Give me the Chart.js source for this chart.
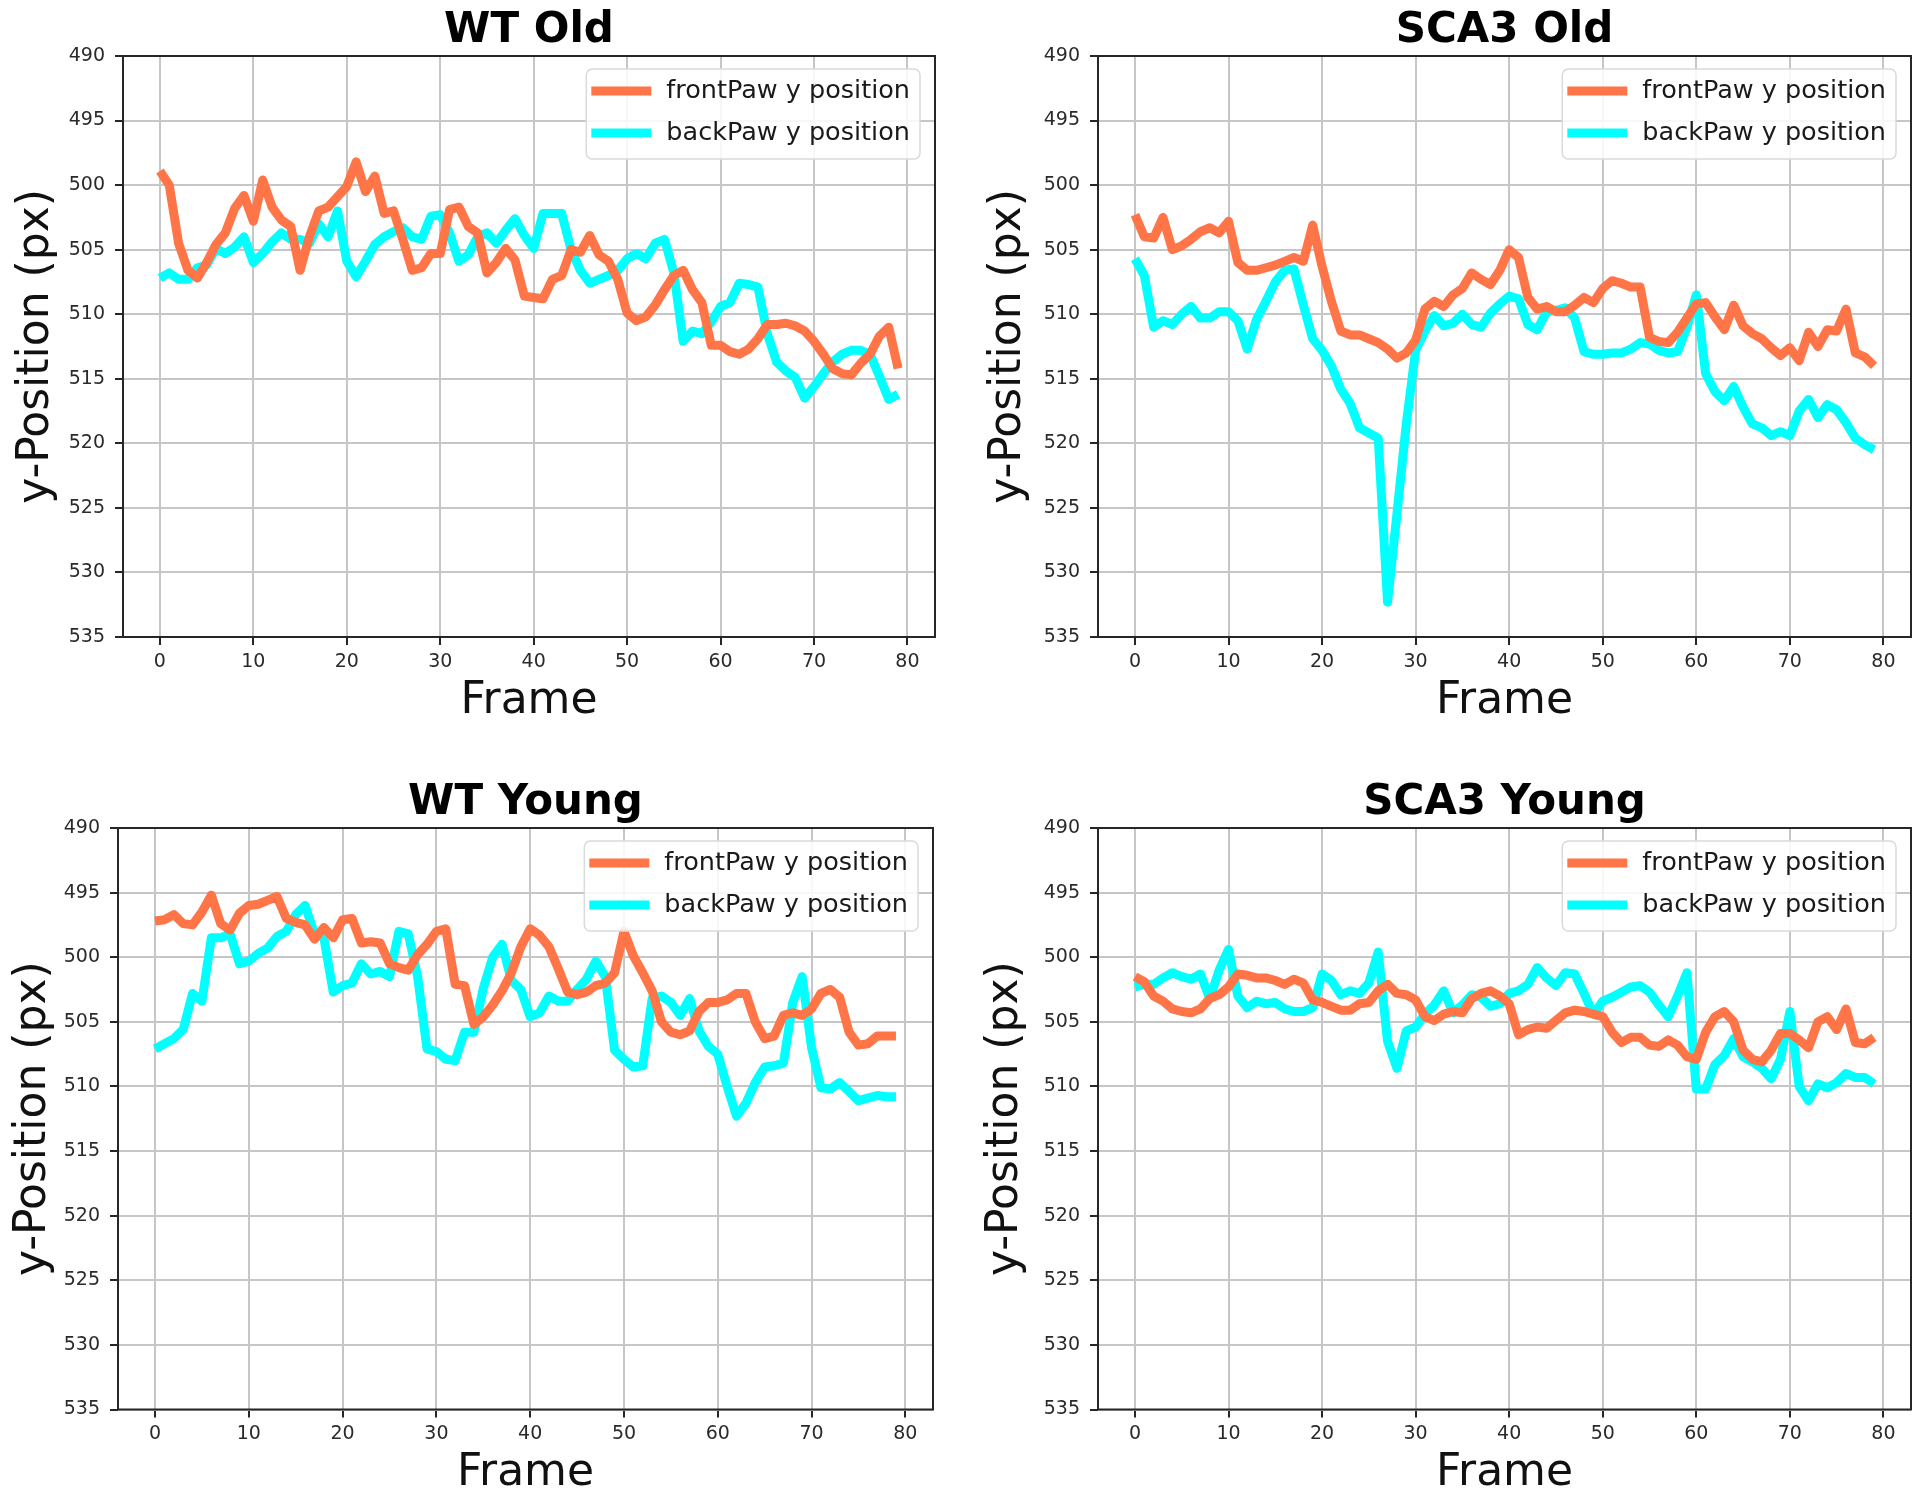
<!DOCTYPE html>
<html>
<head>
<meta charset="utf-8">
<title>Paw y-position per frame</title>
<script src="https://cdn.jsdelivr.net/npm/chart.js@4.4.1/dist/chart.umd.min.js"></script>
<style>
  html, body { margin: 0; padding: 0; background: #fff; }
  body { width: 1920px; height: 1497px; position: relative; overflow: hidden; }
  canvas { position: absolute; }
</style>
</head>
<body>
<canvas id="wt-old" width="975" height="740" style="left:0px;top:0px"></canvas>
<canvas id="sca3-old" width="945" height="740" style="left:975px;top:0px"></canvas>
<canvas id="wt-young" width="975" height="757" style="left:0px;top:740px"></canvas>
<canvas id="sca3-young" width="945" height="757" style="left:975px;top:740px"></canvas>
<script>
// Assi e etichette
const frames = Array.from({ length: 80 }, (_, i) => i);
const xTicks = [0, 10, 20, 30, 40, 50, 60, 70, 80];
const yTicks = [490, 495, 500, 505, 510, 515, 520, 525, 530, 535];
const seriesLabels = ['frontPaw y position', 'backPaw y position'];
const panelTitles = ['WT Old', 'SCA3 Old', 'WT Young', 'SCA3 Young'];

// Valori (y in px, frame 0..79)
const wtOldFront = [
    498.9, 500.0, 504.5, 506.6, 507.2, 506.0, 504.6, 503.7, 501.8, 500.8,
    502.8, 499.6, 501.7, 502.7, 503.2, 506.6, 504.0, 502.0, 501.7, 500.9,
    500.1, 498.2, 500.5, 499.3, 502.2, 502.0, 504.2, 506.6, 506.4, 505.3,
    505.3, 501.9, 501.7, 503.2, 503.7, 506.8, 506.0, 504.9, 505.8, 508.6,
    508.7, 508.8, 507.3, 507.0, 505.0, 505.2, 503.9, 505.4, 505.9, 507.3,
    509.9, 510.5, 510.2, 509.3, 508.1, 507.0, 506.6, 508.1, 509.1, 512.4,
    512.4, 512.9, 513.1, 512.7, 511.9, 510.8, 510.8, 510.7, 510.9, 511.3,
    512.1, 513.1, 514.2, 514.6, 514.7, 513.8, 513.1, 511.7, 511.0, 514.2
];
const wtOldBack = [
    507.2, 506.8, 507.3, 507.3, 506.4, 506.2, 504.9, 505.3, 504.8, 504.0,
    506.0, 505.3, 504.4, 503.7, 504.2, 504.2, 504.5, 503.0, 504.0, 502.0,
    505.9, 507.1, 505.9, 504.6, 504.0, 503.6, 503.3, 504.0, 504.2, 502.4,
    502.3, 503.7, 505.9, 505.4, 504.0, 503.7, 504.5, 503.5, 502.6, 503.9,
    504.9, 502.2, 502.2, 502.2, 505.0, 506.6, 507.6, 507.3, 507.0, 506.6,
    505.7, 505.3, 505.7, 504.5, 504.2, 506.8, 512.1, 511.3, 511.5, 510.6,
    509.4, 509.1, 507.6, 507.7, 507.9, 511.5, 513.7, 514.4, 514.9, 516.5,
    515.6, 514.6, 513.7, 513.1, 512.8, 512.8, 513.1, 514.8, 516.6, 516.2
];
const sca3OldFront = [
    502.3, 504.0, 504.1, 502.5, 505.0, 504.7, 504.2, 503.6, 503.3, 503.7,
    502.8, 506.0, 506.6, 506.6, 506.4, 506.2, 505.9, 505.6, 505.9, 503.1,
    506.3, 509.0, 511.3, 511.6, 511.6, 511.9, 512.2, 512.7, 513.4, 513.0,
    512.0, 509.6, 509.0, 509.4, 508.5, 508.0, 506.8, 507.3, 507.7, 506.6,
    505.0, 505.6, 508.7, 509.6, 509.4, 509.8, 509.8, 509.3, 508.7, 509.1,
    508.0, 507.4, 507.6, 507.9, 507.9, 511.8, 512.1, 512.2, 511.4, 510.3,
    509.2, 509.1, 510.2, 511.2, 509.3, 510.9, 511.5, 511.9, 512.6, 513.2,
    512.6, 513.6, 511.4, 512.5, 511.2, 511.3, 509.6, 513.0, 513.3, 514.0
];
const sca3OldBack = [
    505.7, 507.0, 511.0, 510.5, 510.8, 510.0, 509.4, 510.3, 510.3, 509.8,
    509.8, 510.5, 512.7, 510.4, 509.0, 507.5, 506.6, 506.5, 509.3, 511.9,
    512.8, 514.0, 515.8, 516.9, 518.8, 519.2, 519.6, 532.3, 525.5, 518.5,
    512.8, 511.3, 510.1, 510.9, 510.7, 510.0, 510.8, 511.0, 509.9, 509.2,
    508.6, 508.8, 510.8, 511.2, 509.8, 509.7, 509.5, 510.3, 512.9, 513.1,
    513.1, 513.0, 513.0, 512.7, 512.2, 512.3, 512.8, 513.0, 512.9, 511.0,
    508.5, 514.6, 516.0, 516.7, 515.6, 517.2, 518.5, 518.8, 519.4, 519.1,
    519.4, 517.5, 516.6, 518.0, 517.0, 517.4, 518.4, 519.6, 520.1, 520.5
];
const wtYoungFront = [
    497.2, 497.1, 496.7, 497.4, 497.5, 496.5, 495.2, 497.4, 497.9, 496.6,
    496.0, 495.9, 495.6, 495.3, 497.0, 497.3, 497.5, 498.6, 497.7, 498.5,
    497.1, 497.0, 498.9, 498.8, 498.9, 500.5, 500.8, 501.0, 499.8, 499.0,
    498.0, 497.8, 502.1, 502.2, 505.2, 504.6, 503.7, 502.6, 501.2, 499.2,
    497.8, 498.3, 499.2, 500.9, 502.7, 502.9, 502.7, 502.2, 502.0, 501.2,
    498.0, 499.9, 501.2, 502.6, 505.0, 505.8, 506.0, 505.7, 504.2, 503.5,
    503.5, 503.3, 502.8, 502.8, 505.0, 506.3, 506.1, 504.5, 504.3, 504.5,
    504.0, 502.8, 502.5, 503.1, 505.8, 506.8, 506.7, 506.1, 506.1, 506.1
];
const wtYoungBack = [
    507.1, 506.7, 506.3, 505.6, 502.8, 503.4, 498.5, 498.5, 498.2, 500.5,
    500.3, 499.7, 499.3, 498.4, 498.0, 496.7, 496.0, 498.2, 498.5, 502.7,
    502.2, 502.0, 500.5, 501.3, 501.1, 501.5, 498.0, 498.2, 501.5, 507.1,
    507.3, 507.9, 508.0, 505.8, 505.8, 502.4, 500.0, 499.0, 501.8, 502.5,
    504.6, 504.3, 503.0, 503.4, 503.4, 502.5, 501.7, 500.3, 501.5, 507.2,
    507.9, 508.5, 508.4, 503.2, 503.0, 503.5, 504.5, 503.2, 505.7, 506.9,
    507.5, 510.0, 512.3, 511.3, 509.7, 508.5, 508.4, 508.2, 503.5, 501.5,
    507.0, 510.1, 510.2, 509.7, 510.4, 511.1, 510.9, 510.7, 510.8, 510.8
];
const sca3YoungFront = [
    501.5, 501.9, 503.0, 503.4, 504.0, 504.2, 504.3, 504.0, 503.2, 502.9,
    502.3, 501.3, 501.4, 501.6, 501.6, 501.8, 502.1, 501.7, 502.0, 503.3,
    503.5, 503.8, 504.1, 504.1, 503.6, 503.5, 502.6, 502.1, 502.8, 502.9,
    503.3, 504.6, 504.9, 504.4, 504.2, 504.3, 503.2, 502.8, 502.6, 503.0,
    503.6, 506.0, 505.6, 505.4, 505.5, 504.9, 504.3, 504.1, 504.2, 504.4,
    504.6, 505.8, 506.6, 506.2, 506.2, 506.8, 506.9, 506.4, 506.8, 507.7,
    507.9, 505.8, 504.6, 504.2, 505.0, 507.2, 507.9, 508.1, 507.2, 505.9,
    505.9, 506.4, 507.0, 505.0, 504.6, 505.6, 504.0, 506.6, 506.7, 506.2
];
const sca3YoungBack = [
    502.3, 502.1, 502.1, 501.6, 501.2, 501.5, 501.7, 501.3, 503.2, 501.0,
    499.4, 503.0, 503.9, 503.4, 503.6, 503.5, 504.0, 504.2, 504.2, 503.9,
    501.3, 501.8, 502.9, 502.6, 502.8, 502.0, 499.6, 506.5, 508.6, 505.7,
    505.4, 504.4, 503.7, 502.6, 504.3, 503.7, 502.9, 503.1, 503.8, 503.6,
    502.8, 502.6, 502.1, 500.8, 501.6, 502.2, 501.2, 501.3, 502.8, 504.4,
    503.4, 503.1, 502.7, 502.3, 502.2, 502.7, 503.7, 504.6, 503.0, 501.2,
    510.2, 510.2, 508.3, 507.6, 506.3, 507.7, 508.1, 508.6, 509.4, 507.9,
    504.2, 510.0, 511.1, 509.8, 510.1, 509.7, 509.0, 509.3, 509.3, 509.8
];

// Stile
const FRONT_COLOR = '#ff7548';
const BACK_COLOR = '#00ffff';
const GRID_COLOR = '#c6c6c6';
const AXIS_COLOR = '#262626';
const FONT_FAMILY = '"DejaVu Sans", "Liberation Sans", sans-serif';
const TITLE_SIZE = 42;
const LABEL_SIZE = 44;

Chart.defaults.font.family = FONT_FAMILY;
Chart.defaults.color = '#222';

// Posizione di ogni pannello dentro il suo canvas
const panels = [
    { id: 'wt-old', title: panelTitles[0], front: wtOldFront, back: wtOldBack,
      plot: { left: 123, right: 935, top: 56, bottom: 637 }, titleMid: 31, frameMid: 701.5, yLabelMid: 36.5 },
    { id: 'sca3-old', title: panelTitles[1], front: sca3OldFront, back: sca3OldBack,
      plot: { left: 123, right: 936, top: 56, bottom: 637 }, titleMid: 31, frameMid: 701.5, yLabelMid: 34 },
    { id: 'wt-young', title: panelTitles[2], front: wtYoungFront, back: wtYoungBack,
      plot: { left: 118, right: 933, top: 88, bottom: 669.5 }, titleMid: 63.5, frameMid: 733.5, yLabelMid: 33.5 },
    { id: 'sca3-young', title: panelTitles[3], front: sca3YoungFront, back: sca3YoungBack,
      plot: { left: 123, right: 936, top: 88, bottom: 669.5 }, titleMid: 63.5, frameMid: 733.5, yLabelMid: 31 }
];

// Cornice attorno all'area del grafico (come gli spine di matplotlib)
const framePlugin = {
    id: 'frame',
    afterDatasetsDraw(chart) {
        const { ctx, chartArea: a } = chart;
        ctx.save();
        ctx.strokeStyle = AXIS_COLOR;
        ctx.lineWidth = 2;
        ctx.strokeRect(a.left, a.top, a.right - a.left, a.bottom - a.top);
        ctx.restore();
    }
};

// Legenda dentro l'area del grafico, in alto a destra
const insideLegendPlugin = {
    id: 'insideLegend',
    afterDraw(chart) {
        const { ctx, chartArea: a } = chart;
        const items = chart.data.datasets;
        ctx.save();
        ctx.font = '25.5px ' + FONT_FAMILY;
        const textW = Math.max(...items.map(d => ctx.measureText(d.label).width));
        const w = 80 + textW + 10;
        const h = 90;
        const x = a.right - 15 - w;
        const y = a.top + 13;

        ctx.beginPath();
        ctx.roundRect(x, y, w, h, 6);
        ctx.fillStyle = 'rgba(255,255,255,0.85)';
        ctx.fill();
        ctx.strokeStyle = '#dadada';
        ctx.lineWidth = 1.5;
        ctx.stroke();

        items.forEach((d, i) => {
            const cy = y + 22 + i * 42;
            ctx.beginPath();
            ctx.moveTo(x + 5, cy);
            ctx.lineTo(x + 65, cy);
            ctx.strokeStyle = d.borderColor;
            ctx.lineWidth = d.borderWidth;
            ctx.stroke();
            ctx.fillStyle = '#1a1a1a';
            ctx.textBaseline = 'middle';
            ctx.textAlign = 'left';
            ctx.fillText(d.label, x + 80, cy);
        });
        ctx.restore();
    }
};

function lineDataset(label, data, color) {
    return {
        label: label,
        data: data,
        borderColor: color,
        backgroundColor: color,
        borderWidth: 9,
        pointRadius: 0,
        pointHoverRadius: 0,
        tension: 0,
        fill: false,
        borderJoinStyle: 'round',
        borderCapStyle: 'butt'
    };
}

function buildChart(p) {
    const canvas = document.getElementById(p.id);
    const W = canvas.width;
    const H = canvas.height;
    const titleTop = p.titleMid - TITLE_SIZE / 2;

    return new Chart(canvas, {
        type: 'line',
        data: {
            labels: frames,
            datasets: [
                lineDataset(seriesLabels[0], p.front, FRONT_COLOR),
                lineDataset(seriesLabels[1], p.back, BACK_COLOR)
            ]
        },
        options: {
            responsive: false,
            animation: false,
            events: [],
            layout: { padding: { left: 0, right: W - p.plot.right, top: 0, bottom: 0 } },
            plugins: {
                legend: { display: false },
                tooltip: { enabled: false },
                title: {
                    display: true,
                    text: p.title,
                    fullSize: false,
                    color: '#000',
                    font: { size: TITLE_SIZE, weight: 'bold', lineHeight: 1 },
                    padding: { top: titleTop, bottom: p.plot.top - titleTop - TITLE_SIZE }
                }
            },
            scales: {
                x: {
                    type: 'linear',
                    min: -3.95,
                    max: 82.95,
                    bounds: 'data',
                    afterBuildTicks: scale => { scale.ticks = xTicks.map(v => ({ value: v })); },
                    afterFit: scale => { scale.height = H - p.plot.bottom; },
                    border: { display: false },
                    grid: { color: GRID_COLOR, lineWidth: 2, drawTicks: true, tickLength: 8, tickColor: AXIS_COLOR, tickWidth: 2 },
                    ticks: { font: { size: 19, lineHeight: 1 }, color: '#2a2a2a', padding: 7.5, maxRotation: 0, autoSkip: false },
                    title: {
                        display: true,
                        text: 'Frame',
                        color: '#111',
                        font: { size: LABEL_SIZE, lineHeight: 1 },
                        padding: { top: 0, bottom: H - p.frameMid - LABEL_SIZE / 2 }
                    }
                },
                y: {
                    type: 'linear',
                    reverse: true,
                    min: 490,
                    max: 535,
                    bounds: 'data',
                    afterBuildTicks: scale => { scale.ticks = yTicks.map(v => ({ value: v })); },
                    afterFit: scale => { scale.width = p.plot.left; },
                    border: { display: false },
                    grid: { color: GRID_COLOR, lineWidth: 2, drawTicks: true, tickLength: 8, tickColor: AXIS_COLOR, tickWidth: 2 },
                    ticks: { font: { size: 19, lineHeight: 1 }, color: '#2a2a2a', padding: 10, autoSkip: false },
                    title: {
                        display: true,
                        text: 'y-Position (px)',
                        color: '#111',
                        font: { size: LABEL_SIZE, lineHeight: 1 },
                        padding: { top: p.yLabelMid - LABEL_SIZE / 2, bottom: 0 }
                    }
                }
            }
        },
        plugins: [framePlugin, insideLegendPlugin]
    });
}

panels.forEach(buildChart);
</script>
</body>
</html>
